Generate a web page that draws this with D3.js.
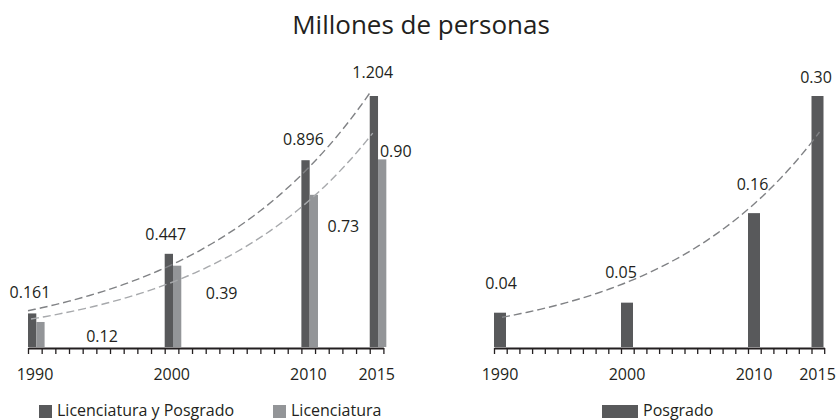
<!DOCTYPE html>
<html>
<head>
<meta charset="utf-8">
<script src="https://cdn.jsdelivr.net/npm/d3@7"></script>
<style>
  body { margin: 0; background: #fff; }
  text { font-family: "Open Sans", sans-serif; fill: #231f20; }
</style>
</head>
<body>
<div id="root"></div>
<script>
// data
const years = [1990, 2000, 2010, 2015];
const licYPos = [0.161, 0.447, 0.896, 1.204];
const lic = [0.12, 0.39, 0.73, 0.90];
const posgrado = [0.041, 0.053, 0.16, 0.30];
const tickYears = d3.range(1990, 2017);
const labelYears = [1990, 2000, 2010, 2015];
// trend curve ends (value at 1990, value at 2015)
const trendLicYPos = [0.174, 1.218];
const trendLic = [0.134, 1.026];
const trendPos = [0.0355, 0.257];

const darkGrey = "#58595b";
const lightGrey = "#939598";

const width = 837, height = 420;
const baseY = 347;

const svg = d3.select("#root").append("svg")
  .attr("width", width)
  .attr("height", height);

svg.append("text")
  .attr("x", 421)
  .attr("y", 34)
  .attr("text-anchor", "middle")
  .attr("font-size", 26)
  .text("Millones de personas");

// exponential curve between two values
function trendPoints(x, y, ends, dx) {
  const b = Math.log(ends[1] / ends[0]) / 25;
  return d3.range(0, 25.01, 0.5).map(t => [x(1990 + t) + dx, y(ends[0] * Math.exp(b * t))]);
}

function drawAxis(g, x, labelShift) {
  const axis = g.append("g")
    .attr("transform", `translate(0,${baseY + 1})`)
    .call(d3.axisBottom(x).tickValues(tickYears).tickSize(6).tickSizeOuter(0).tickFormat(""));
  axis.select(".domain").attr("stroke", "#231f20").attr("stroke-width", 2);
  axis.selectAll(".tick line").attr("stroke", "#231f20").attr("stroke-width", 1.3);

  g.selectAll("text.year")
    .data(labelYears)
    .enter()
    .append("text")
    .attr("class", "year")
    .attr("x", d => x(d) + labelShift)
    .attr("y", 380)
    .attr("text-anchor", "middle")
    .attr("font-size", 16)
    .text(d => d);
}

// ---- left chart
const xL = d3.scaleLinear().domain([1990, 2016]).range([28, 383.4]);
const yL = d3.scaleLinear().domain([0, 1.204]).range([baseY, 96]);
const barW = 8.3;
const left = svg.append("g");

left.selectAll("rect.dark")
  .data(licYPos)
  .enter()
  .append("rect")
  .attr("class", "dark")
  .attr("x", (d, i) => xL(years[i]))
  .attr("y", d => yL(d))
  .attr("width", barW)
  .attr("height", d => baseY - yL(d))
  .attr("fill", darkGrey);

left.selectAll("rect.light")
  .data(lic)
  .enter()
  .append("rect")
  .attr("class", "light")
  .attr("x", (d, i) => xL(years[i]) + barW)
  .attr("y", d => yL(d))
  .attr("width", barW)
  .attr("height", d => baseY - yL(d))
  .attr("fill", lightGrey);

drawAxis(left, xL, 7);

const line = d3.line();
left.append("path")
  .attr("d", line(trendPoints(xL, yL, trendLicYPos, 0)))
  .attr("fill", "none")
  .attr("stroke", "#808285")
  .attr("stroke-width", 1.4)
  .attr("stroke-dasharray", "8,4");

left.append("path")
  .attr("d", line(trendPoints(xL, yL, trendLic, 3)))
  .attr("fill", "none")
  .attr("stroke", "#a7a9ac")
  .attr("stroke-width", 1.4)
  .attr("stroke-dasharray", "8,4");

// value labels
const darkOff = [[2, -15], [1, -14], [2, -15], [3, -18]];
const lightOff = [[74, 20], [57, 33], [42, 37], [26, -2]];

left.selectAll("text.dv")
  .data(licYPos)
  .enter()
  .append("text")
  .attr("class", "dv")
  .attr("x", (d, i) => xL(years[i]) + darkOff[i][0])
  .attr("y", (d, i) => yL(d) + darkOff[i][1])
  .attr("text-anchor", "middle")
  .attr("font-size", 16)
  .text(d => d3.format(".3f")(d));

left.selectAll("text.lv")
  .data(lic)
  .enter()
  .append("text")
  .attr("class", "lv")
  .attr("x", (d, i) => xL(years[i]) + lightOff[i][0])
  .attr("y", (d, i) => yL(d) + lightOff[i][1])
  .attr("text-anchor", "middle")
  .attr("font-size", 16)
  .text(d => d3.format(".2f")(d));

// ---- right chart
const xR = d3.scaleLinear().domain([1990, 2016]).range([494, 824.2]);
const yR = d3.scaleLinear().domain([0, 0.30]).range([baseY, 96]);
const right = svg.append("g");

right.selectAll("rect")
  .data(posgrado)
  .enter()
  .append("rect")
  .attr("x", (d, i) => xR(years[i]))
  .attr("y", d => yR(d))
  .attr("width", 12)
  .attr("height", d => baseY - yR(d))
  .attr("fill", darkGrey);

drawAxis(right, xR, 6);

right.append("path")
  .attr("d", line(trendPoints(xR, yR, trendPos, 8)))
  .attr("fill", "none")
  .attr("stroke", "#808285")
  .attr("stroke-width", 1.4)
  .attr("stroke-dasharray", "8,4");

const posOff = [[7, -24], [0, -25], [4.5, -23], [4.5, -13]];
right.selectAll("text.pv")
  .data(posgrado)
  .enter()
  .append("text")
  .attr("class", "pv")
  .attr("x", (d, i) => xR(years[i]) + posOff[i][0])
  .attr("y", (d, i) => yR(d) + posOff[i][1])
  .attr("text-anchor", "middle")
  .attr("font-size", 16)
  .text(d => d3.format(".2f")(d));

// ---- legends
const legend = [
  { label: "Licenciatura y Posgrado", color: darkGrey, x: 39, w: 13 },
  { label: "Licenciatura", color: lightGrey, x: 273, w: 13 },
  { label: "Posgrado", color: darkGrey, x: 602, w: 36 }
];
const lg = svg.selectAll("g.legend")
  .data(legend)
  .enter()
  .append("g")
  .attr("class", "legend")
  .attr("transform", d => `translate(${d.x},404)`);
lg.append("rect")
  .attr("y", 1)
  .attr("width", d => d.w)
  .attr("height", 13)
  .attr("fill", d => d.color);
lg.append("text")
  .attr("x", d => d.w + 5)
  .attr("y", 12)
  .attr("font-size", 16)
  .text(d => d.label);
</script>
</body>
</html>
